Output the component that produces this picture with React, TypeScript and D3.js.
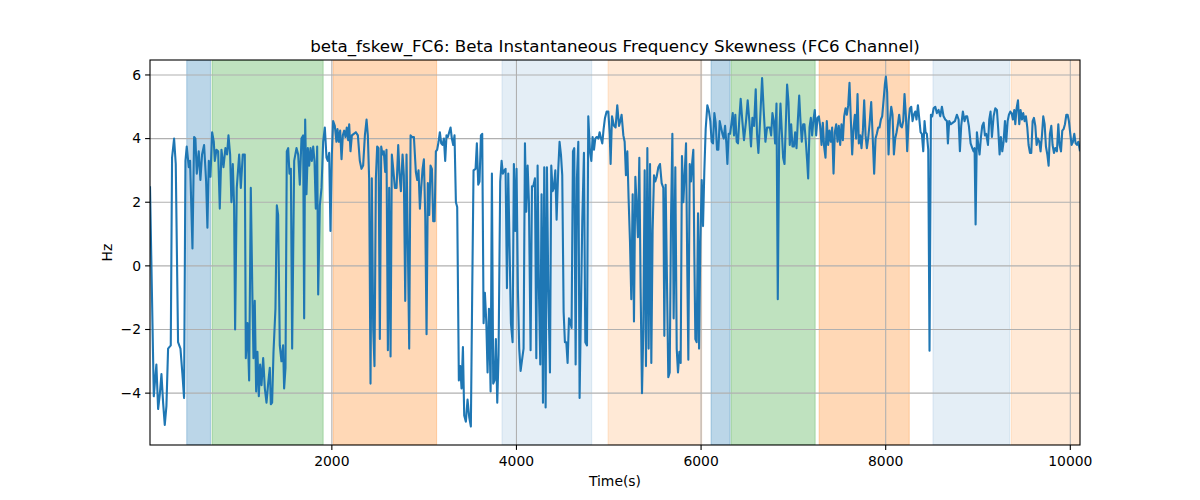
import React from "react";
import * as d3 from "d3";

const title = "beta_fskew_FC6: Beta Instantaneous Frequency Skewness (FC6 Channel)";
const xLabel = "Time(s)";
const yLabel = "Hz";
const xTicks = [2000, 4000, 6000, 8000, 10000];
const yTicks = [-4, -2, 0, 2, 4, 6];
const xDomain = [30, 10105];
const yDomain = [-5.63, 6.47];

// shaded intervals: [start, end, color, opacity]
const spanStarts = [428, 702, 2014, 3843, 4992, 6108, 6325, 7279, 8512, 9360];
const spanEnds = [685, 1906, 3135, 4815, 6007, 6314, 7236, 8255, 9343, 10105];
const spanColors = ["#1f77b4", "#2ca02c", "#ff7f0e", "#1f77b4", "#ff7f0e", "#1f77b4", "#2ca02c", "#ff7f0e", "#1f77b4", "#ff7f0e"];
const spanAlphas = [0.3, 0.3, 0.3, 0.12, 0.17, 0.3, 0.3, 0.3, 0.12, 0.17];

const times = [
  30, 71, 99, 118, 136, 154, 172, 190, 208, 226, 255, 269, 291, 309, 334, 360, 381, 399, 414, 428,
  450, 464, 490, 508, 522, 537, 558, 576, 594, 616, 638, 652, 667, 685, 703, 721, 732, 750, 768, 786,
  804, 826, 847, 865, 880, 898, 912, 927, 941, 952, 970, 996, 1014, 1035, 1057, 1068, 1086, 1104, 1122, 1140,
  1151, 1165, 1180, 1194, 1209, 1223, 1238, 1256, 1274, 1292, 1310, 1328, 1339, 1353, 1368, 1389, 1404, 1418, 1436, 1454,
  1472, 1483, 1498, 1512, 1527, 1541, 1556, 1570, 1592, 1617, 1635, 1653, 1671, 1689, 1700,
  1711, 1725, 1740, 1754, 1769, 1783, 1798, 1812, 1826, 1841, 1852, 1870, 1888, 1906, 1924, 1942, 1956, 1971, 1985, 2000,
  2014, 2032, 2050, 2061, 2076, 2090, 2105, 2119, 2134, 2148, 2162, 2177, 2188, 2202, 2217, 2238, 2260, 2282, 2303, 2321,
  2339, 2358, 2376, 2390, 2404, 2419, 2433, 2448, 2462, 2477, 2491, 2506, 2520, 2535, 2549, 2563, 2578, 2592, 2607, 2621,
  2636, 2650, 2665, 2683, 2701, 2719, 2733, 2748, 2766, 2780, 2795, 2809, 2824, 2838, 2853, 2867, 2889, 2910, 2925, 2939,
  2954, 2968, 2983, 2997, 3012, 3026, 3040, 3055, 3069, 3084, 3098, 3113, 3127, 3141, 3156, 3170, 3185, 3199, 3214, 3228,
  3242, 3257, 3271, 3286, 3300, 3315, 3329, 3344,
  3358, 3376, 3391, 3405, 3420, 3434, 3452, 3470, 3488, 3506, 3521, 3535, 3557, 3571, 3586, 3600, 3615, 3629, 3644, 3658,
  3673, 3687, 3702, 3720, 3734, 3748, 3763, 3777, 3792, 3806, 3824, 3839, 3853, 3868, 3882, 3897, 3911, 3940, 3958, 3972,
  3987, 4001, 4016, 4030, 4045, 4063, 4077, 4092, 4106, 4121, 4135, 4153, 4168, 4182, 4200, 4215, 4229, 4243, 4258, 4272,
  4287, 4301, 4316, 4330, 4345, 4363, 4377, 4392, 4406, 4421, 4435, 4453, 4467, 4482, 4496, 4511, 4525, 4540, 4554, 4569,
  4583, 4597, 4612, 4626, 4641, 4655, 4670, 4684, 4713, 4731, 4746, 4764, 4778, 4796, 4811, 4825, 4840, 4854, 4869, 4887,
  4901, 4916, 4930, 4944, 4959, 4977, 4995, 5010, 5020,
  5035, 5056, 5074, 5092, 5111, 5125, 5139, 5158, 5172, 5186, 5201, 5215, 5230, 5244, 5259, 5273, 5288, 5302, 5316, 5331,
  5345, 5360, 5374, 5389, 5403, 5418, 5432, 5447, 5461, 5475, 5490, 5504, 5519, 5537, 5555, 5573, 5591, 5602, 5616, 5645,
  5660, 5674, 5689, 5703, 5721, 5736, 5750, 5765, 5779, 5793, 5808, 5822, 5837, 5851, 5862, 5877, 5891, 5905, 5916, 5927,
  5938, 5952, 5967, 5978, 5992, 6007, 6021, 6035, 6050, 6068, 6086, 6100, 6115, 6129, 6144, 6158, 6173, 6187, 6202, 6216,
  6231, 6245, 6260, 6274, 6285, 6299, 6314, 6328, 6343, 6357, 6371, 6386, 6400, 6415, 6429, 6447, 6465, 6487, 6505, 6523,
  6541, 6556, 6574, 6592, 6606, 6621, 6639, 6661, 6679, 6697, 6715,
  6745, 6759, 6773, 6788, 6802, 6817, 6831, 6846, 6860, 6875, 6889, 6904, 6918, 6932, 6947, 6961, 6976, 6990, 7005, 7019,
  7034, 7048, 7063, 7077, 7091, 7106, 7120, 7135, 7149, 7160, 7175, 7189, 7203, 7218, 7232, 7247, 7261, 7276, 7290, 7305,
  7319, 7333, 7348, 7362, 7377, 7391, 7406, 7420, 7435, 7449, 7464, 7478, 7492, 7507, 7521, 7536, 7550, 7565, 7579, 7594,
  7608, 7623, 7637, 7651, 7666, 7680, 7695, 7709, 7724, 7738, 7753, 7767, 7782, 7796, 7810, 7825, 7843, 7857, 7875, 7890,
  7904, 7919, 7933, 7948, 7962, 7977, 7991, 8002, 8016, 8031, 8045, 8060, 8074, 8089, 8103, 8118, 8132, 8146, 8161, 8175,
  8190, 8204, 8219, 8233, 8248, 8262, 8277, 8291, 8305, 8320, 8334, 8349, 8363, 8378, 8392, 8407, 8421,
  8432, 8446, 8461, 8475, 8490, 8504, 8519, 8537, 8555, 8573, 8591, 8609, 8627, 8645, 8663, 8674, 8688, 8706, 8728, 8750,
  8771, 8790, 8804, 8818, 8836, 8854, 8869, 8883, 8901, 8920, 8938, 8952, 8963, 8974, 8988, 9003, 9017, 9032, 9046, 9061,
  9075, 9089, 9108, 9122, 9136, 9151, 9169, 9187, 9205, 9219, 9234, 9248, 9263, 9277, 9292, 9306, 9321, 9335, 9350, 9364,
  9378, 9393, 9404, 9418, 9433, 9447, 9461, 9476, 9490, 9505, 9519, 9534, 9548, 9563, 9577, 9592, 9606, 9621, 9635, 9649,
  9664, 9678, 9693, 9707, 9722, 9736, 9751, 9765, 9779, 9794, 9808, 9823, 9837, 9855, 9870, 9884, 9899, 9913, 9928, 9942,
  9957, 9971, 9985, 10000, 10014, 10029, 10043, 10058, 10072, 10087, 10105,
];

const values = [
  2.5, -4.1, -3.1, -4.5, -4.05, -3.4, -4.3, -5.0, -4.4, -2.6, -2.5, 3.4, 4.0, 3.2, -2.4, -2.6, -3.4, -4.15, 3.3, 3.75,
  3.1, 3.3, 0.55, 4.05, 4.0, 2.9, 3.6, 2.7, 3.5, 3.8, 2.65, 1.2, 3.3, 2.8, 4.2, 3.9, 3.3, 3.65, 3.6, 1.8,
  3.65, 3.1, 3.7, 3.5, 4.1, 3.5, 2.0, 3.2, 1.9, -2.0, 2.45, 3.5, 2.45, 3.5, 3.5, -2.9, -1.8, -3.6, 2.45, -1.1,
  -2.9, -1.1, -3.95, -2.7, -4.1, -3.1, -3.75, -2.9, -3.85, -4.3, -3.7, -3.2, -4.35, -4.3, -2.7, -1.35, 1.9, 1.6, -2.5, -3.0,
  -2.5, -3.85, -3.2, 3.6, 3.7, 2.9, 3.05, -2.6, 3.3, 3.7, 3.5, 2.55, 4.0, 4.1, -1.65,
  4.6, 2.25, 3.7, 3.15, 3.7, 3.3, 3.75, 3.3, 1.8, 3.75, -0.9, 1.9, 2.45, 3.9, 4.35, 3.4, 3.3, 3.55, 1.1, 3.5,
  4.55, 4.4, 3.9, 4.3, 3.9, 4.25, 3.35, 4.1, 4.25, 4.05, 4.35, 3.95, 4.45, 3.6, 4.1, 4.15, 4.2, 4.1, 3.3, 3.05,
  3.15, 4.1, 4.6, 4.1, 2.75, -3.7, 2.75, -1.95, -3.15, 2.75, 3.75, 3.7, -2.3, 3.75, 3.5, 3.6, 2.95, 3.65, -2.65, 2.45,
  -2.85, 3.5, 3.05, 2.45, 2.45, 3.8, 2.9, 2.35, 3.5, 2.85, -1.1, 3.5, 0.55, -2.6, 4.1, 4.05, 4.05, 2.95, 2.7, 3.0,
  1.8, 2.45, 3.05, 3.35, 1.55, -2.15, 2.6, 1.6, 3.15, 3.05, 1.4, 1.4, 3.6, 3.65, 3.9, 4.2, 3.85, 3.8, 4.0, 3.3,
  4.1, 4.05, 4.2, 4.35, 4.0, 3.8, 4.1, 2.0,
  1.85, -3.6, -3.15, -3.85, -2.55, -4.7, -4.9, -4.2, -4.75, -5.05, -0.7, 3.0, 3.05, 3.85, 2.55, 2.65, 4.1, 4.15, -1.8, -0.85,
  -1.75, -3.35, -1.35, -3.95, 2.9, -3.7, -3.6, -2.3, -4.3, -2.8, 2.65, 3.3, 2.9, 3.0, 3.05, -0.7, 2.9, -1.8, -2.4, 3.2,
  1.1, 3.05, -0.8, -2.6, -3.3, -2.9, -2.6, 3.85, 1.7, 3.15, 2.0, -2.65, 2.5, 2.5, 2.75, -2.9, 3.15, -0.7, -3.1, 2.25,
  -4.3, 3.1, -4.45, 3.1, -0.7, -3.35, 3.15, 2.35, 2.45, 3.0, 1.45, 3.05, 3.9, 3.5, 2.85, -1.45, -2.4, -2.4, -3.05, -1.65,
  -1.75, -1.95, 3.6, 3.7, -3.1, 2.75, 3.9, -4.15, 1.4, 3.55, -2.4, -2.5, 4.7, 3.6, 3.3, 4.05, 3.65, 4.0, 4.05, 4.0,
  4.2, 4.0, 3.85, 4.3, 4.65, 4.85, 4.85, 4.15, 3.2,
  4.7, 4.4, 4.35, 5.05, 4.4, 4.55, 4.75, 4.1, 3.9, 2.85, 3.6, 2.1, 0.75, -1.05, 2.25, -1.75, 2.8, 1.9, 0.9, 3.4,
  -0.7, -4.0, -2.05, 3.0, -3.15, 3.7, -2.6, 3.2, -3.05, 1.1, 2.85, 2.65, 2.8, 3.1, 3.2, 2.6, 2.45, -2.2, 2.55, -3.5,
  -3.35, 1.4, 4.15, -1.65, 3.1, -2.6, -3.35, -2.7, -3.05, 3.45, 2.0, 2.85, 3.85, -0.2, -2.95, 3.2, 2.65, 3.3, 3.65, 0.35,
  -2.3, -2.4, 1.65, -2.6, 0.75, 2.7, 1.25, 2.95, 4.3, 5.05, 4.85, 4.55, 3.9, 3.85, 4.8, 4.5, 3.65, 3.65, 4.55, 4.35,
  4.15, 4.0, 4.4, 3.85, 3.2, 4.15, 4.15, 4.45, 4.8, 4.1, 4.75, 3.9, 3.85, 4.65, 5.25, 4.55, 3.95, 4.55, 5.2, 4.55,
  3.75, 4.65, 4.4, 5.55, 4.15, 3.55, 4.55, 5.9, 4.85, 3.9, 4.35,
  4.35, 4.1, 4.8, 4.55, 3.85, 5.1, -1.05, 4.0, 5.1, 4.2, 3.4, 3.2, 4.45, 5.7, 5.15, 3.8, 4.45, 3.75, 3.75, 4.2,
  3.7, 4.55, 5.35, 4.55, 3.9, 4.45, 4.45, 3.9, 3.3, 2.75, 4.35, 4.65, 4.1, 4.6, 4.9, 4.1, 4.65, 4.7, 4.4, 3.8,
  4.5, 3.75, 3.4, 4.55, 3.8, 4.25, 3.9, 4.35, 2.9, 4.2, 4.45, 3.9, 4.4, 3.8, 4.45, 3.95, 4.7, 4.95, 4.75, 5.05,
  5.75, 4.55, 3.5, 4.3, 4.75, 4.0, 5.4, 3.85, 4.1, 3.7, 4.25, 5.2, 4.1, 3.7, 4.0, 4.45, 5.15, 4.2, 2.9, 4.0,
  4.15, 4.35, 4.35, 4.6, 4.7, 5.2, 5.7, 5.95, 5.45, 3.5, 4.55, 5.0, 4.75, 3.5, 4.0, 4.2, 4.45, 4.75, 4.4, 4.35,
  4.55, 5.4, 4.7, 3.6, 4.55, 4.95, 5.0, 4.55, 4.75, 4.85, 4.6, 5.05, 4.65, 4.2, 4.15, 3.6, 4.55,
  4.2, 4.15, 3.65, -2.67, 4.75, 4.7, 4.95, 5.0, 4.8, 4.9, 4.7, 5.0, 4.7, 4.6, 4.55, 3.85, 4.55, 4.45, 4.5, 4.55,
  4.75, 4.6, 3.6, 4.4, 4.85, 4.55, 4.7, 4.7, 4.4, 3.85, 3.7, 3.6, 3.7, 1.3, 4.2, 3.8, 3.5, 4.05, 4.4, 4.5,
  4.1, 4.15, 3.8, 4.6, 4.85, 4.05, 4.7, 4.95, 4.9, 4.3, 3.5, 4.05, 3.6, 3.9, 4.55, 3.9, 4.55, 4.75, 4.85, 4.8,
  4.6, 4.9, 4.45, 4.95, 5.2, 4.45, 4.9, 4.6, 4.8, 4.55, 4.7, 4.35, 3.8, 3.55, 3.55, 4.55, 4.65, 4.4, 3.8, 4.0,
  3.9, 3.6, 4.1, 4.7, 4.45, 3.75, 3.5, 3.15, 4.15, 4.4, 3.8, 3.55, 3.7, 3.6, 4.45, 3.8, 3.6, 4.25, 4.3, 4.45,
  4.75, 4.75, 4.55, 4.15, 3.8, 3.9, 4.15, 3.85, 3.8, 3.9, 3.6,
];

const W = 1200;
const H = 500;
const M = { left: 150, right: 1080, top: 60, bottom: 445 };
const FONT = "DejaVu Sans, sans-serif";

export default function App() {
  const x = d3.scaleLinear().domain(xDomain).range([M.left, M.right]);
  const y = d3.scaleLinear().domain(yDomain).range([M.bottom, M.top]);
  const n = Math.min(times.length, values.length);
  const pts: [number, number][] = [];
  for (let i = 0; i < n; i++) pts.push([times[i], values[i]]);
  const line = d3
    .line<[number, number]>()
    .x((d) => x(d[0]))
    .y((d) => y(d[1]));

  return (
    <svg
      width={W}
      height={H}
      style={{ position: "absolute", left: 0, top: 0, background: "#fff" }}
      fontFamily={FONT}
    >
      <rect x={0} y={0} width={W} height={H} fill="#fff" />
      <defs>
        <clipPath id="plot">
          <rect x={M.left} y={M.top} width={M.right - M.left} height={M.bottom - M.top} />
        </clipPath>
      </defs>
      <g clipPath="url(#plot)">
        {spanStarts.map((s, i) => (
          <rect
            key={i}
            x={x(s)}
            y={M.top}
            width={x(spanEnds[i]) - x(s)}
            height={M.bottom - M.top}
            fill={spanColors[i]}
            fillOpacity={spanAlphas[i]}
            stroke={spanColors[i]}
            strokeOpacity={spanAlphas[i]}
            strokeWidth={1}
          />
        ))}
        {xTicks.map((t) => (
          <line key={"gx" + t} x1={x(t)} x2={x(t)} y1={M.top} y2={M.bottom} stroke="#b0b0b0" strokeWidth={1.1} />
        ))}
        {yTicks.map((t) => (
          <line key={"gy" + t} x1={M.left} x2={M.right} y1={y(t)} y2={y(t)} stroke="#b0b0b0" strokeWidth={1.1} />
        ))}
        <path
          d={line(pts) || ""}
          fill="none"
          stroke="#1f77b4"
          strokeWidth={2.1}
          strokeLinejoin="round"
          strokeLinecap="butt"
        />
      </g>
      <rect
        x={M.left}
        y={M.top}
        width={M.right - M.left}
        height={M.bottom - M.top}
        fill="none"
        stroke="#000"
        strokeWidth={1.1}
      />
      {xTicks.map((t) => (
        <g key={"tx" + t}>
          <line x1={x(t)} x2={x(t)} y1={M.bottom} y2={M.bottom + 4.9} stroke="#000" strokeWidth={1.1} />
          <text x={x(t)} y={M.bottom + 20.5} textAnchor="middle" fontSize={13.9} fill="#000">
            {t}
          </text>
        </g>
      ))}
      {yTicks.map((t) => (
        <g key={"ty" + t}>
          <line x1={M.left - 4.9} x2={M.left} y1={y(t)} y2={y(t)} stroke="#000" strokeWidth={1.1} />
          <text x={M.left - 9} y={y(t)} dy="0.35em" textAnchor="end" fontSize={13.9} fill="#000">
            {t < 0 ? "\u2212" + Math.abs(t) : String(t)}
          </text>
        </g>
      ))}
      <text x={(M.left + M.right) / 2} y={486} textAnchor="middle" fontSize={13.9} fill="#000">
        {xLabel}
      </text>
      <text
        transform={`translate(${112}, ${(M.top + M.bottom) / 2}) rotate(-90)`}
        textAnchor="middle"
        fontSize={13.9}
        fill="#000"
      >
        {yLabel}
      </text>
      <text x={(M.left + M.right) / 2} y={52} textAnchor="middle" fontSize={16.7} fill="#000">
        {title}
      </text>
    </svg>
  );
}
